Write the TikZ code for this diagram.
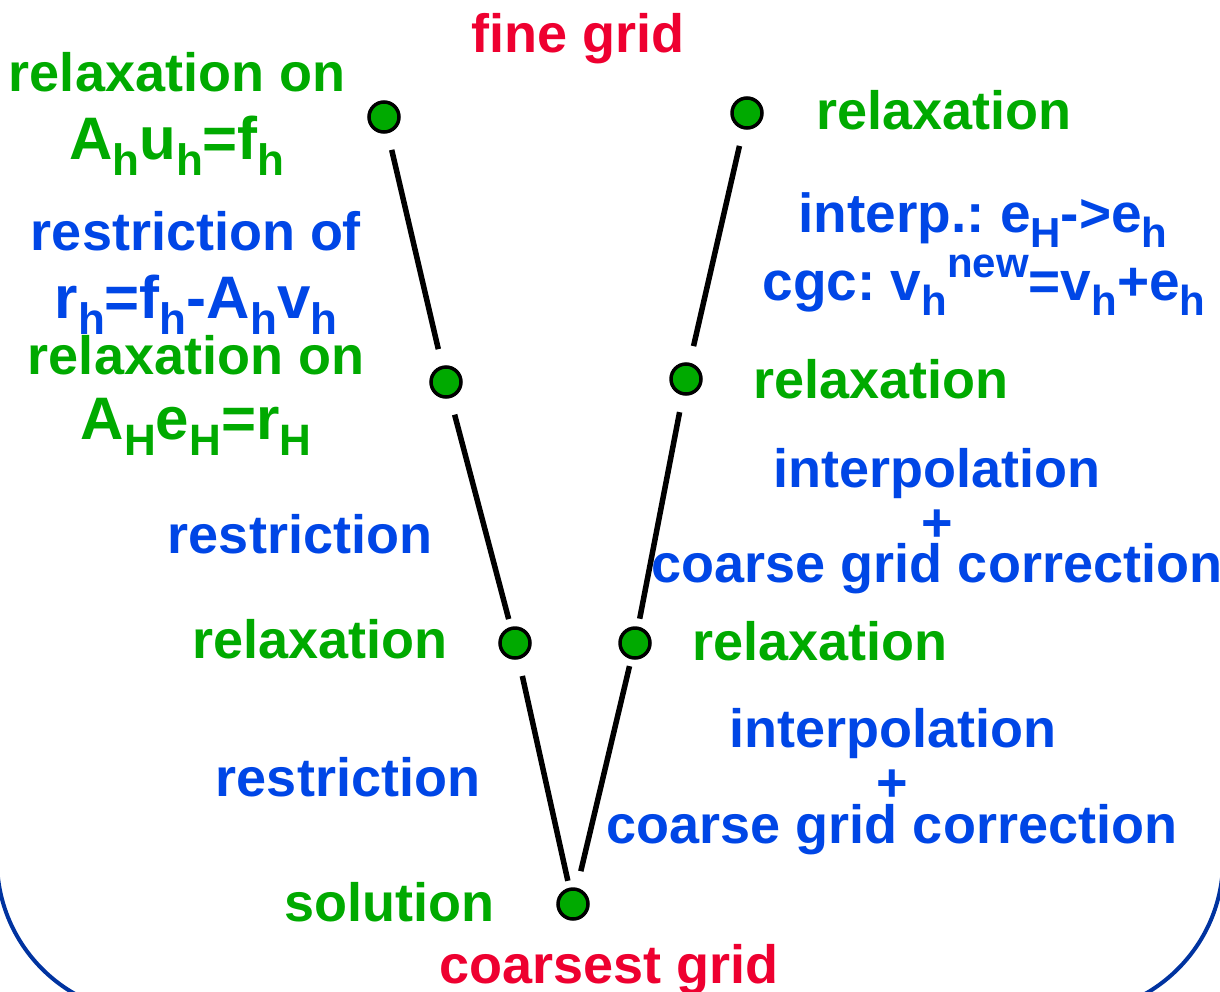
\documentclass[tikz,border=0pt]{standalone}
\usepackage{fontspec}
\setmainfont{Liberation Sans}
\definecolor{mgreen}{RGB}{0,170,0}
\definecolor{mblue}{RGB}{0,70,230}
\definecolor{mred}{RGB}{238,0,48}
\definecolor{frameblue}{RGB}{0,51,160}
\newcommand\sbx[1]{\raisebox{-16pt}{\fontsize{44}{44}\selectfont #1}}
\newcommand\sbs[1]{\raisebox{-15pt}{\fontsize{42}{42}\selectfont #1}}
\newcommand\spx[1]{\raisebox{23pt}{\fontsize{42}{42}\selectfont #1}}
\begin{document}
\begin{tikzpicture}[x=1pt,y=-1pt,
  lbl/.style={font=\fontsize{54}{60}\selectfont\bfseries\frenchspacing, inner sep=0pt, anchor=base},
  biglbl/.style={lbl, font=\fontsize{60}{66}\selectfont\bfseries\frenchspacing},
  midlbl/.style={lbl, font=\fontsize{55}{60}\selectfont\bfseries\frenchspacing},
  grn/.style={text=mgreen},
  blu/.style={text=mblue},
  rd/.style={text=mred},
  dot/.style={circle, draw=black, line width=3.5pt, fill=mgreen, minimum size=30pt, inner sep=0pt},
  conn/.style={line width=5.5pt, shorten <=17pt},
  frame/.style={draw=frameblue, line width=4pt, rounded corners=154pt}]
\useasboundingbox (0,0) rectangle (1220,991);
\clip (0,0) rectangle (1220,991);
\draw[frame] (-3,-300) rectangle (1223,1014);

% dots
\node[dot] (l1) at (384,117) {};
\node[dot] (l2) at (446,382) {};
\node[dot] (l3) at (515,643) {};
\node[dot] (b)  at (573,904) {};
\node[dot] (r3) at (635,643) {};
\node[dot] (r2) at (686,379) {};
\node[dot] (r1) at (747,113) {};

% connectors
\draw[conn, shorten >=17pt] (l1) -- (l2);
\draw[conn, shorten >=8pt] (l2) -- (l3);
\draw[conn, shorten >=7pt] (l3) -- (b);
\draw[conn, shorten >=7pt] (b) -- (r3);
\draw[conn, shorten >=17pt, shorten <=8pt] (r3) -- (r2);
\draw[conn, shorten >=17pt] (r2) -- (r1);

% labels
\node[lbl, rd] (tfine) at (578,52) {fine grid};
\node[lbl, rd] (tcoarse) at (609,983) {coarsest grid};

\node[lbl, grn] (tl1a) at (177,91) {relaxation on};
\node[biglbl, grn] (tl1b) at (177,159) {A\sbx{h}u\sbx{h}=f\sbx{h}};
\node[lbl, blu] (tr1a) at (196,250) {restriction of};
\node[biglbl, blu] (tr1b) at (196,318) {r\sbx{h}=f\sbx{h}-A\sbx{h}v\sbx{h}};
\node[lbl, grn] (tl2a) at (196,374) {relaxation on};
\node[biglbl, grn] (tl2b) at (196,439) {A\sbx{H}e\sbx{H}=r\sbx{H}};
\node[lbl, blu] (tres2) at (300,553) {restriction};
\node[lbl, grn] (tl3) at (320,658) {relaxation};
\node[lbl, blu] (tres3) at (348,796) {restriction};
\node[lbl, grn] (tsol) at (389,921) {solution};

\node[lbl, grn] (tR1) at (944,129) {relaxation};
\node[midlbl, blu] (tint1a) at (983,232) {interp.: e\sbs{H}->e\sbs{h}};
\node[midlbl, blu] (tint1b) at (984,300) {cgc: v\sbs{h}\spx{new}=v\sbs{h}+e\sbs{h}};
\node[lbl, grn] (tR2) at (881,398) {relaxation};
\node[lbl, blu] (tint2a) at (937,487) {interpolation};
\node[lbl, blu] (tint2b) at (937,541) {+};
\node[lbl, blu] (tint2c) at (937,582) {coarse grid correction};
\node[lbl, grn] (tR3) at (820,660) {relaxation};
\node[lbl, blu] (tint3a) at (893,747) {interpolation};
\node[lbl, blu] (tint3b) at (892,801) {+};
\node[lbl, blu] (tint3c) at (892,843) {coarse grid correction};
\end{tikzpicture}
\end{document}
